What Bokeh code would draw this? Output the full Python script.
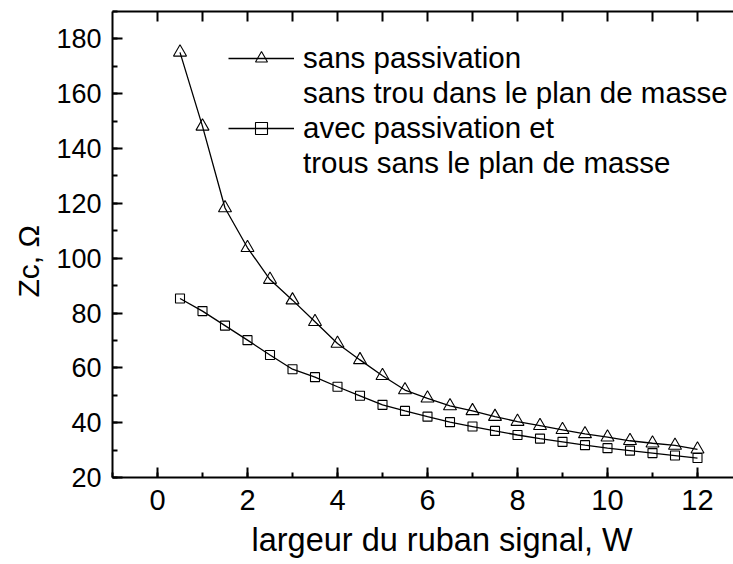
import numpy as np
from bokeh.plotting import figure
from bokeh.models import (Range1d, LinearAxis, SingleIntervalTicker, FixedTicker,
                          Legend, LegendItem, Title, ColumnDataSource)
from bokeh.embed import file_html
from bokeh.resources import INLINE

# ---- data ----
w = [0.5, 1.0, 1.5, 2.0, 2.5, 3.0, 3.5, 4.0, 4.5, 5.0, 5.5, 6.0,
     6.5, 7.0, 7.5, 8.0, 8.5, 9.0, 9.5, 10.0, 10.5, 11.0, 11.5, 12.0]
zc_sans_passivation = [175.1, 148.1, 118.3, 103.8, 92.2, 84.7, 76.8, 68.9,
                       62.9, 57.1, 51.9, 48.9, 46.1, 44.3, 42.2, 40.4,
                       38.9, 37.4, 35.9, 34.7, 33.4, 32.5, 31.7, 30.3]
zc_avec_passivation = [85.3, 80.7, 75.4, 70.1, 64.7, 59.5, 56.6, 53.1,
                       49.8, 46.5, 44.3, 42.2, 40.2, 38.6, 37.0, 35.5,
                       34.2, 33.0, 31.8, 30.7, 29.8, 28.9, 28.0, 27.1]
legend_labels = ["sans passivation",
                 "sans trou dans le plan de masse",
                 "avec passivation et",
                 "trous sans le plan de masse"]
x_label = "largeur du ruban signal, W"
y_label = "Zc, \u03a9"
top_tick_positions = list(range(0, 13))

FONT = "Liberation Sans"
X0, X1 = -1.0, 12.8
Y0, Y1 = 20, 190

p = figure(width=733, height=564, output_backend="svg",
           toolbar_location=None,
           x_range=Range1d(X0, X1), y_range=Range1d(Y0, Y1),
           min_border_left=109, min_border_right=0, min_border_top=11,
           min_border_bottom=86, background_fill_color="white",
           border_fill_color="white", outline_line_color=None)
p.grid.visible = False

p.xaxis.ticker = SingleIntervalTicker(interval=2, num_minor_ticks=2)
p.yaxis.ticker = SingleIntervalTicker(interval=20, num_minor_ticks=2)
for ax in (p.xaxis[0], p.yaxis[0]):
    ax.axis_line_width = 2
    ax.major_tick_line_width = 2
    ax.minor_tick_line_width = 2
    ax.major_tick_in = 10
    ax.major_tick_out = 0
    ax.minor_tick_in = 5
    ax.minor_tick_out = 0
    ax.major_label_text_font = FONT
    ax.major_label_text_color = "black"
    ax.axis_line_color = "black"
    ax.major_tick_line_color = "black"
    ax.minor_tick_line_color = "black"
p.yaxis.major_label_text_font_size = "27px"
p.xaxis.major_label_text_font_size = "29px"
p.yaxis.major_label_standoff = 11
p.xaxis.major_label_standoff = 12

# top axis (inward ticks only, no labels)
top = LinearAxis(ticker=FixedTicker(ticks=[], minor_ticks=top_tick_positions),
                 axis_line_width=2, axis_line_color="black",
                 minor_tick_line_width=2, minor_tick_line_color="black",
                 minor_tick_in=10, minor_tick_out=0,
                 major_tick_in=0, major_tick_out=0, major_label_standoff=0)
p.add_layout(top, "above")

# x axis title below the tick labels, shifted right as in the reference
p.add_layout(Title(text=x_label, align="left", offset=139, standoff=14,
                   text_font=FONT, text_font_size="32.5px",
                   text_font_style="normal", text_color="black"), "below")

# y axis title, rotated, left of the tick labels
p.add_layout(Title(text=y_label, align="left", offset=180, standoff=18,
                   text_font=FONT, text_font_size="30px",
                   text_font_style="normal", text_color="black"), "left")

# data
src1 = ColumnDataSource(dict(x=w, y=zc_sans_passivation))
src2 = ColumnDataSource(dict(x=w, y=zc_avec_passivation))
l1 = p.line("x", "y", source=src1, line_color="black", line_width=1.3)
s1 = p.scatter("x", "y", source=src1, marker="triangle", size=13,
               line_color="black", fill_color=None, line_width=1.1)
l2 = p.line("x", "y", source=src2, line_color="black", line_width=1.3)
s2 = p.scatter("x", "y", source=src2, marker="square", size=9,
               line_color="black", fill_color=None, line_width=1.1)
blank = p.scatter(x=[], y=[], size=1, line_alpha=0, fill_alpha=0)

legend = Legend(items=[
    LegendItem(label=legend_labels[0], renderers=[l1, s1]),
    LegendItem(label=legend_labels[1], renderers=[blank]),
    LegendItem(label=legend_labels[2], renderers=[l2, s2]),
    LegendItem(label=legend_labels[3], renderers=[blank]),
], location=(116, 297), padding=0, margin=0, spacing=1,
   glyph_width=66, glyph_height=30, label_height=30, label_standoff=9,
   label_text_font=FONT, label_text_font_size="29.5px",
   label_text_color="black", border_line_color=None,
   background_fill_alpha=0)
p.add_layout(legend, "center")

open("out.html", "w").write(file_html(p, INLINE))
